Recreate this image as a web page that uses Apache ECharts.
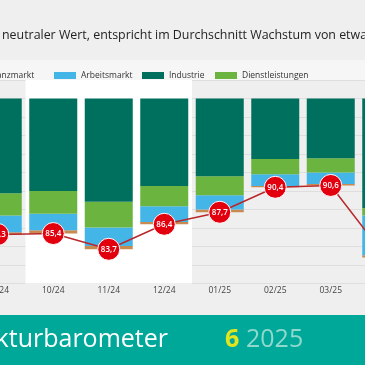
<!DOCTYPE html>
<html><head><meta charset="utf-8">
<script src="https://cdn.jsdelivr.net/npm/echarts@6/dist/echarts.min.js"></script>
<style>html,body{margin:0;padding:0;background:#efefef}#c{width:365px;height:365px}</style>
</head><body><div id="c"></div>
<script>
const categories = ['09/24','10/24','11/24','12/24','01/25','02/25','03/25','04/25'];
const indexValues = [85.3, 85.4, 83.7, 86.4, 87.7, 90.4, 90.6, 82.8];
const finanzmarkt = [0.25, 0.35, 0.35, 0.25, 0.3, 0.15, 0.15, 0.25];
const arbeitsmarkt = [1.8, 1.8, 2.0, 1.7, 1.55, 1.25, 1.25, 4.3];
const dienstleistungen = [2.4, 2.45, 2.8, 2.2, 2.05, 1.65, 1.55, 0.8];
const industrie = [10.25, 10.0, 11.15, 9.45, 8.4, 6.55, 6.45, 11.85];
const yMin = 80, yMax = 102, yStep = 2;
const titleText = 'neutraler Wert, entspricht im Durchschnitt Wachstum von etwa 0,3 %';
const bannerName = 'Konjunkturbarometer';
const bannerIssue = '6';
const bannerYear = '2025';

const FONT = '"Open Sans", "Noto Sans", sans-serif';
const COL = {fin:'#c98a52', arb:'#43b5e6', ind:'#00705e', dien:'#6ab43f'};
const chart = echarts.init(document.getElementById('c'), null, {renderer:'canvas'});
const BW = 48;
function legend(name, left) {
  return {data:[name], left:left, top:66, itemWidth:22, itemHeight:7, itemGap:0, icon:'rect',
    textStyle:{fontFamily:FONT, fontSize:8.5, color:'#333'}, selectedMode:false};
}
chart.setOption({
  backgroundColor:'#efefef',
  animation:false,
  grid:{left:-30, width:444, top:80, height:203.5, outerBoundsMode:'none', containLabel:false},
  graphic:[
    {type:'rect', shape:{x:0, y:60, width:365, height:20}, style:{fill:'#f6f6f6'}, z:-10},
    {type:'text', x:2, y:35, style:{text:titleText, font:'12.4px ' + FONT, fill:'#222', textVerticalAlign:'middle'}},
    {type:'rect', shape:{x:0, y:315, width:365, height:50}, style:{fill:'#00a89a'}},
    {type:'text', x:168, y:340, style:{text:bannerName, font:'25px ' + FONT, fill:'#ffffff', textAlign:'right', textVerticalAlign:'middle'}},
    {type:'text', x:225, y:340, style:{text:bannerIssue, font:'bold 25px ' + FONT, fill:'#e2e41e', textVerticalAlign:'middle'}},
    {type:'text', x:246, y:340, style:{text:bannerYear, font:'25px ' + FONT, fill:'#8fd8ce', textVerticalAlign:'middle'}}
  ],
  legend:[legend('Finanzmarkt', -47), legend('Arbeitsmarkt', 49), legend('Industrie', 137), legend('Dienstleistungen', 210)],
  xAxis:[
    {type:'category', data:categories, axisLine:{show:false}, axisTick:{show:false},
     axisLabel:{fontFamily:FONT, fontSize:8.5, color:'#444', margin:3}},
    {type:'value', min:0, max:categories.length, show:false}
  ],
  yAxis:{type:'value', min:yMin, max:yMax, interval:yStep, z:1, axisLabel:{show:false},
    axisLine:{show:false}, axisTick:{show:false}, splitLine:{lineStyle:{color:'#dedede', width:1}}},
  series:[
    {type:'line', xAxisIndex:1, data:[[0, yMin]], symbol:'none', lineStyle:{opacity:0}, z:0, silent:true,
     markArea:{silent:true, itemStyle:{color:'#ffffff'}, data:[[{xAxis:1},{xAxis:4}]]}},
    {type:'bar', name:'base', stack:'t', data:indexValues, barWidth:BW, itemStyle:{color:'rgba(0,0,0,0)'}, silent:true, z:2},
    {type:'bar', name:'Finanzmarkt', stack:'t', data:finanzmarkt, barWidth:BW, itemStyle:{color:COL.fin}, z:2},
    {type:'bar', name:'Arbeitsmarkt', stack:'t', data:arbeitsmarkt, barWidth:BW, itemStyle:{color:COL.arb}, z:2},
    {type:'bar', name:'Dienstleistungen', stack:'t', data:dienstleistungen, barWidth:BW, itemStyle:{color:COL.dien}, z:2},
    {type:'bar', name:'Industrie', stack:'t', data:industrie, barWidth:BW, itemStyle:{color:COL.ind}, z:2},
    {type:'line', name:'Index', data:indexValues, z:5, symbol:'circle', symbolSize:22,
     lineStyle:{color:'#b8282c', width:1.5},
     itemStyle:{color:'#e3000e', borderColor:'#ffffff', borderWidth:1},
     label:{show:true, position:'inside', color:'#fff', fontFamily:FONT, fontSize:8, fontWeight:600,
       formatter:p => String(p.value).replace('.', ',')}}
  ]
});
</script></body></html>
